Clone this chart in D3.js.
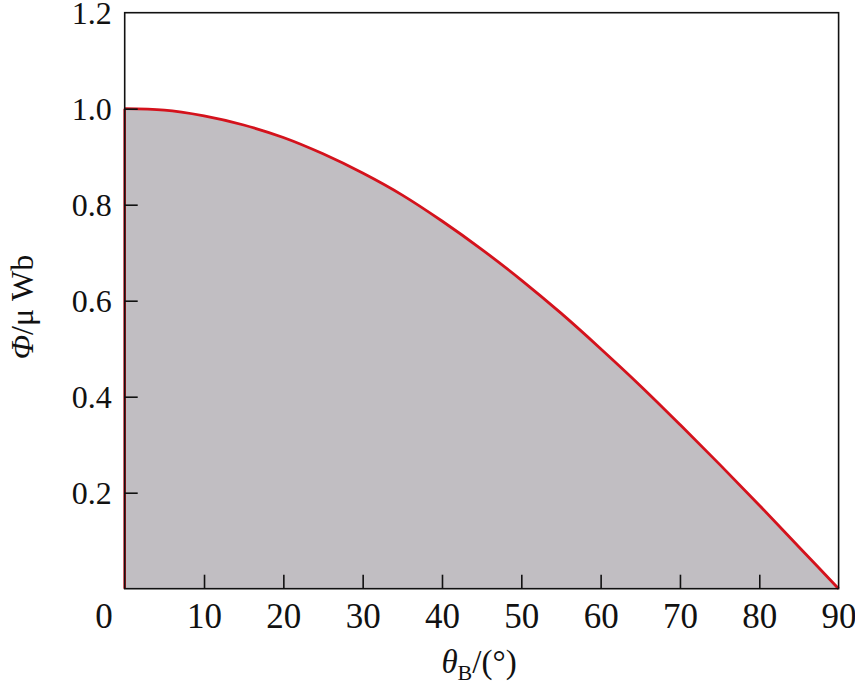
<!DOCTYPE html>
<html>
<head>
<meta charset="utf-8">
<script src="https://cdn.jsdelivr.net/npm/d3@7"></script>
<style>
  html, body { margin: 0; padding: 0; background: #fff; }
  svg { display: block; }
  text { font-family: "Liberation Serif", "DejaVu Serif", serif; fill: #111; }
</style>
</head>
<body>
<svg id="chart" width="855" height="686"></svg>
<script>
// ---- data ----
const theta = [0, 5, 10, 15, 20, 25, 30, 35, 40, 45, 50, 55, 60, 65, 70, 75, 80, 85, 90];
const phi   = [1.0, 0.997, 0.985, 0.966, 0.94, 0.906, 0.866, 0.82, 0.766, 0.707, 0.643, 0.574, 0.5, 0.423, 0.342, 0.259, 0.174, 0.087, 0.0];
const xTicks = [10, 20, 30, 40, 50, 60, 70, 80, 90];
const yTicks = [0.2, 0.4, 0.6, 0.8, 1.0, 1.2];

const points = theta.map((t, i) => ({ t: t, v: phi[i] }));

const svg = d3.select("#chart");
const x = d3.scaleLinear().domain([0, 90]).range([124.7, 838.6]);
const y = d3.scaleLinear().domain([0, 1.2]).range([588.7, 12.7]);

// filled area
const area = d3.area()
  .x(d => x(d.t)).y0(y(0)).y1(d => y(d.v))
  .curve(d3.curveMonotoneX);
svg.append("path").datum(points)
  .attr("d", area)
  .attr("fill", "#c1bec2");

// red outline: vertical edge at theta=0 plus the curve
const line = d3.line().x(d => x(d.t)).y(d => y(d.v)).curve(d3.curveMonotoneX);
svg.append("line")
  .attr("x1", x(0)).attr("x2", x(0))
  .attr("y1", y(0)).attr("y2", y(phi[0]))
  .attr("stroke", "#d4121c").attr("stroke-width", 2.6);
svg.append("path").datum(points)
  .attr("d", line)
  .attr("fill", "none")
  .attr("stroke", "#d4121c")
  .attr("stroke-width", 2.8)
  .attr("stroke-linejoin", "round");

// frame
svg.append("rect")
  .attr("x", x(0)).attr("y", y(1.2))
  .attr("width", x(90) - x(0)).attr("height", y(0) - y(1.2))
  .attr("fill", "none").attr("stroke", "#111").attr("stroke-width", 1.6);

// axes with inward ticks
const xAxis = d3.axisBottom(x).tickValues(xTicks).tickSizeInner(-14).tickSizeOuter(0).tickPadding(16);
const gx = svg.append("g").attr("transform", `translate(0,${y(0)})`).call(xAxis);
gx.select(".domain").remove();
gx.selectAll(".tick line").attr("stroke", "#111").attr("stroke-width", 1.6);
gx.selectAll(".tick text")
  .attr("font-size", 35).attr("dy", null).attr("y", 39)
  .attr("font-family", "Liberation Serif").attr("fill", "#111");
// hide the last tick line at the frame edge (it coincides with the frame)
gx.selectAll(".tick").filter(d => d === 90).select("line").remove();

const yAxis = d3.axisLeft(y).tickValues(yTicks).tickSizeInner(-13).tickSizeOuter(0).tickPadding(13)
  .tickFormat(d3.format(".1f"));
const gy = svg.append("g").attr("transform", `translate(${x(0)},0)`).call(yAxis);
gy.select(".domain").remove();
gy.selectAll(".tick line").attr("stroke", "#111").attr("stroke-width", 1.6);
gy.selectAll(".tick").filter(d => d === 1.2).select("line").remove();
gy.selectAll(".tick text")
  .attr("font-size", 32).attr("dy", "0.33em")
  .attr("font-family", "Liberation Serif").attr("fill", "#111");

// shared origin label
svg.append("text")
  .attr("x", 104).attr("y", 628)
  .attr("text-anchor", "middle")
  .attr("font-size", 35)
  .text("0");

// x axis title
const xt = svg.append("text")
  .attr("x", 479).attr("y", 673)
  .attr("text-anchor", "middle")
  .attr("font-size", 33);
xt.append("tspan").attr("font-style", "italic").text("θ");
xt.append("tspan").attr("font-size", 22).attr("dy", 7).text("B");
xt.append("tspan").attr("dy", -7).text("/(°)");

// y axis title
const yt = svg.append("text")
  .attr("transform", "translate(33,307) rotate(-90)")
  .attr("text-anchor", "middle")
  .attr("font-size", 32);
yt.append("tspan").attr("font-style", "italic").text("Φ");
yt.append("tspan").text("/μ Wb");
</script>
</body>
</html>
